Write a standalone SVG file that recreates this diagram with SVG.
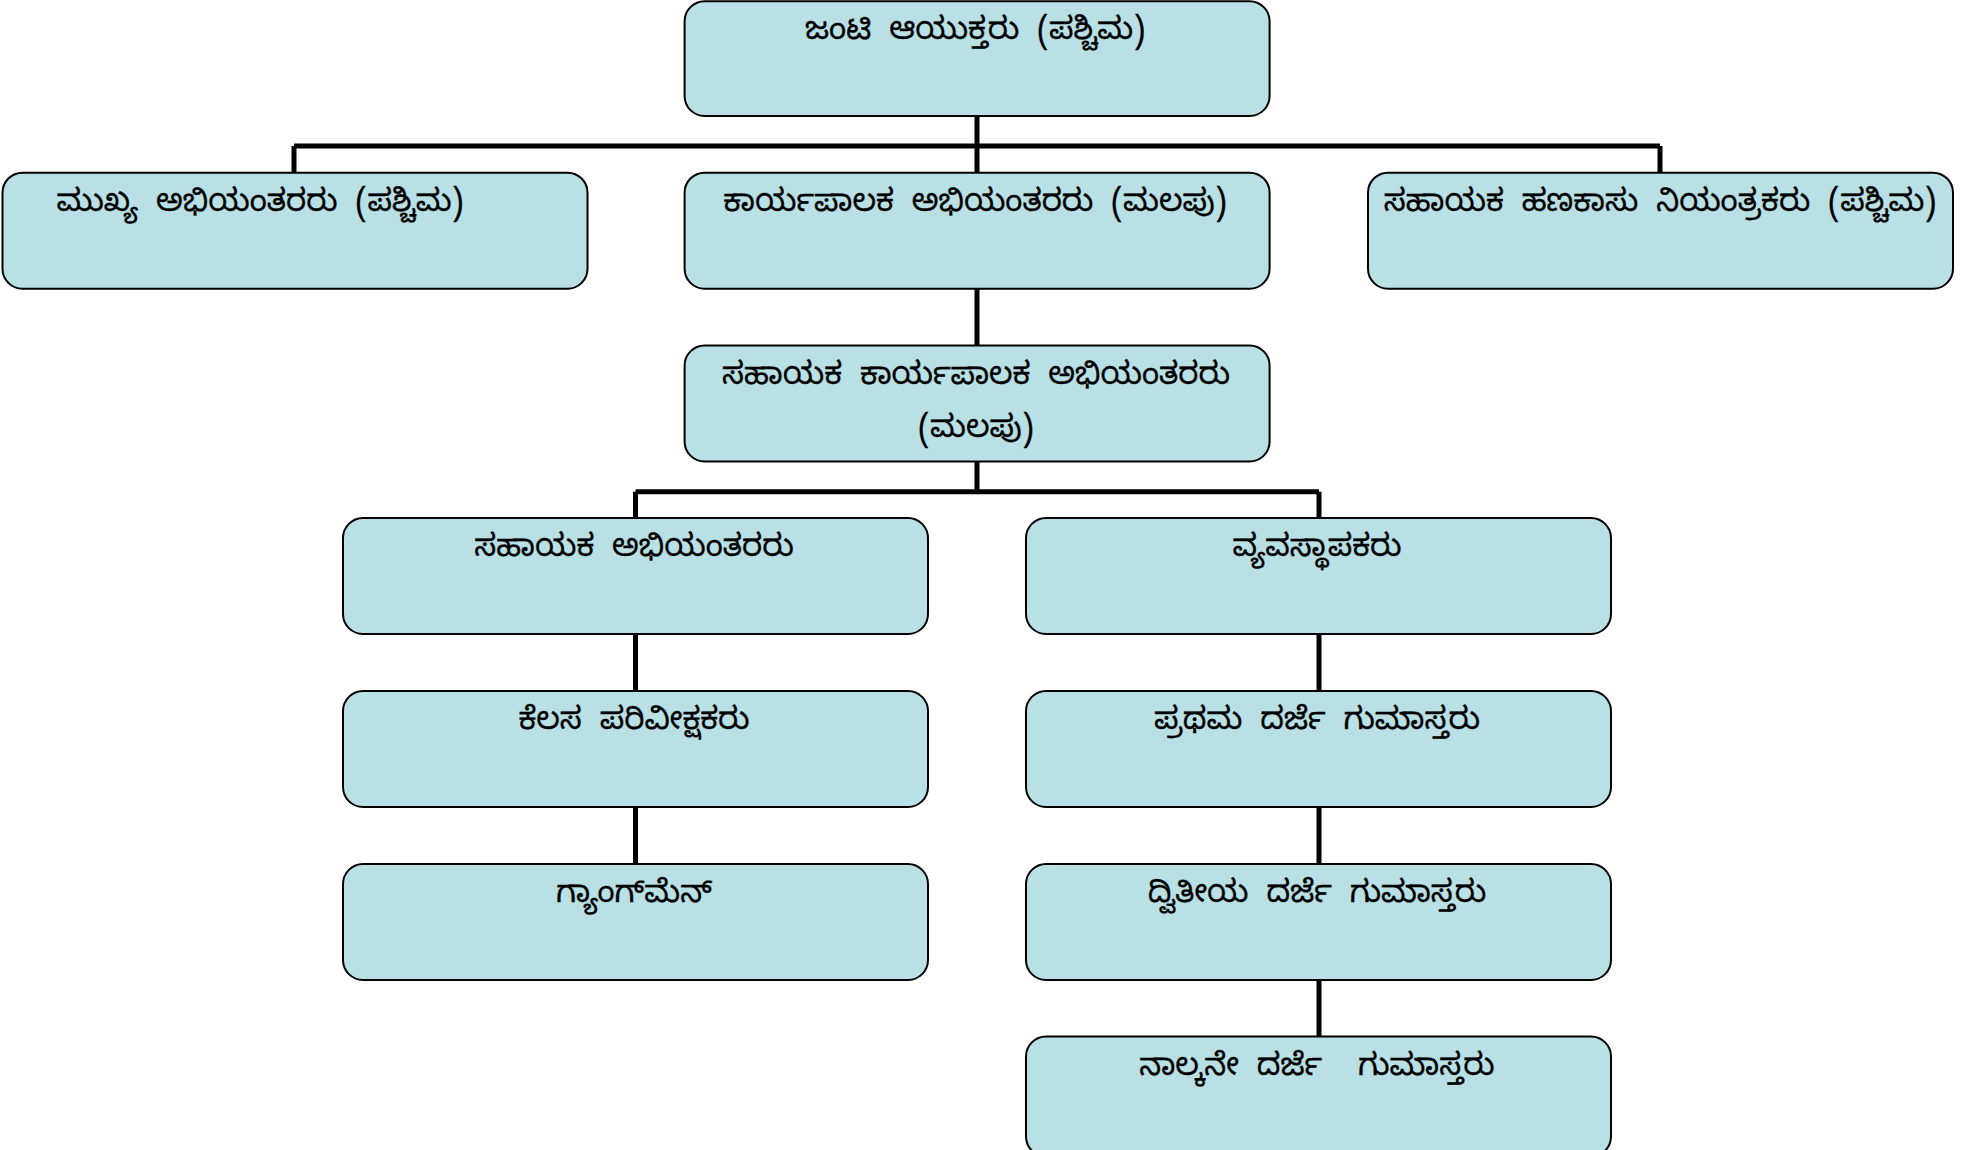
<svg xmlns="http://www.w3.org/2000/svg" width="1977" height="1150" viewBox="0 0 1977 1150">
<style>
.box{fill:#B9E0E4;stroke:#000;stroke-width:2}
.lbl{font-family:"Noto Sans Kannada","Lohit Kannada","Tunga","Noto Sans",sans-serif;font-size:31px;word-spacing:9px;fill:#000;stroke:#000;stroke-width:0.3;text-anchor:middle}
.conn{stroke:#000;stroke-width:5;fill:none}
</style>
<rect width="1977" height="1150" fill="#fff"/>
<g id="connectors">
<path class="conn" d="M977,116 V172.7 M294,146 H1660 M294,146 V172.7 M1660,146 V172.7"/>
<path class="conn" d="M977,288.7 V345.5"/>
<path class="conn" d="M977,461.5 V491.7 M635.5,491.7 H1319 M635.5,491.7 V518 M1319,491.7 V518"/>
<path class="conn" d="M635.5,634 V691 M635.5,807 V864"/>
<path class="conn" d="M1319,634 V691 M1319,807 V864 M1319,980 V1036.5"/>
</g>
<g id="n-top"><rect class="box" x="684.6" y="1.3" width="585" height="114.7" rx="20"/><text class="lbl" x="975" y="39">ಜಂಟಿ ಆಯುಕ್ತರು (ಪಶ್ಚಿಮ)</text></g>
<g id="n-chief"><rect class="box" x="2.5" y="172.7" width="585" height="116" rx="20"/><text class="lbl" x="260" y="211">ಮುಖ್ಯ ಅಭಿಯಂತರರು (ಪಶ್ಚಿಮ)</text></g>
<g id="n-exec"><rect class="box" x="684.6" y="172.7" width="585" height="116" rx="20"/><text class="lbl" x="975" y="211">ಕಾರ್ಯಪಾಲಕ ಅಭಿಯಂತರರು (ಮಲಪು)</text></g>
<g id="n-fin"><rect class="box" x="1368" y="172.7" width="585" height="116" rx="20"/><text class="lbl" x="1660" y="211">ಸಹಾಯಕ ಹಣಕಾಸು ನಿಯಂತ್ರಕರು (ಪಶ್ಚಿಮ)</text></g>
<g id="n-asstexec"><rect class="box" x="684.6" y="345.5" width="585" height="116" rx="20"/><text class="lbl" x="976" y="383.5">ಸಹಾಯಕ ಕಾರ್ಯಪಾಲಕ ಅಭಿಯಂತರರು</text><text class="lbl" x="976" y="436.5">(ಮಲಪು)</text></g>
<g id="n-asst"><rect class="box" x="343" y="518" width="585" height="116" rx="20"/><text class="lbl" x="634" y="556">ಸಹಾಯಕ ಅಭಿಯಂತರರು</text></g>
<g id="n-mgr"><rect class="box" x="1026" y="518" width="585" height="116" rx="20"/><text class="lbl" x="1317" y="556">ವ್ಯವಸ್ಥಾಪಕರು</text></g>
<g id="n-work"><rect class="box" x="343" y="691" width="585" height="116" rx="20"/><text class="lbl" x="634" y="729">ಕೆಲಸ ಪರಿವೀಕ್ಷಕರು</text></g>
<g id="n-fdc"><rect class="box" x="1026" y="691" width="585" height="116" rx="20"/><text class="lbl" x="1317" y="729">ಪ್ರಥಮ ದರ್ಜೆ ಗುಮಾಸ್ತರು</text></g>
<g id="n-gang"><rect class="box" x="343" y="864" width="585" height="116" rx="20"/><text class="lbl" x="634" y="902">ಗ್ಯಾಂಗ್‌ಮೆನ್</text></g>
<g id="n-sdc"><rect class="box" x="1026" y="864" width="585" height="116" rx="20"/><text class="lbl" x="1317" y="902">ದ್ವಿತೀಯ ದರ್ಜೆ ಗುಮಾಸ್ತರು</text></g>
<g id="n-4th"><rect class="box" x="1026" y="1036.5" width="585" height="120" rx="20"/><text class="lbl" x="1317" y="1074.5" xml:space="preserve">ನಾಲ್ಕನೇ ದರ್ಜೆ  ಗುಮಾಸ್ತರು</text></g>
</svg>
